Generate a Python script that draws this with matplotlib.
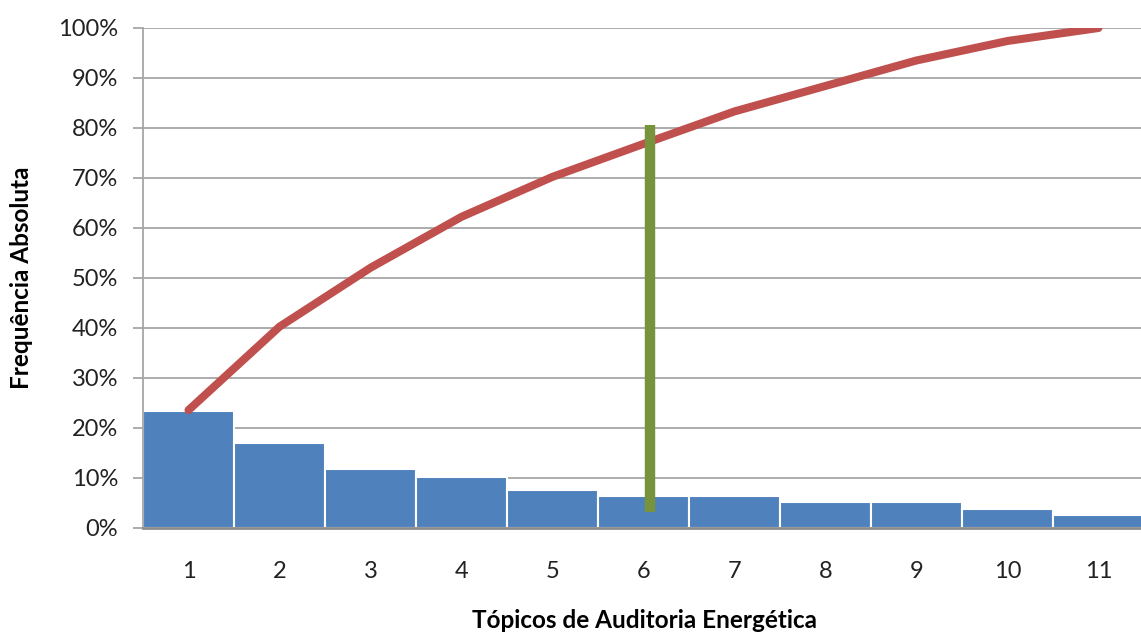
import matplotlib.pyplot as plt
from matplotlib.ticker import PercentFormatter

# Pareto data (percent)
topicos = [1, 2, 3, 4, 5, 6, 7, 8, 9, 10, 11]
frequencia = [23.3, 16.9, 11.7, 10.2, 7.6, 6.4, 6.4, 5.1, 5.1, 3.8, 2.5]
acumulada = [23.5, 40.2, 52.0, 62.2, 70.2, 76.8, 83.3, 88.4, 93.5, 97.4, 100.0]

# vertical marker line (80% cut)
corte_x = 6.07
corte_y = [3.2, 80.6]

plt.rcParams['font.family'] = ['Lato', 'DejaVu Sans']

fig = plt.figure(figsize=(11.41, 6.35), dpi=100)
ax = fig.add_axes([143 / 1141, 107.5 / 635, 1001 / 1141, 499.5 / 635])

ax.bar(topicos, frequencia, width=1.0, color='#4F81BD', edgecolor='white',
       linewidth=1.5, zorder=2)
ax.plot(topicos, acumulada, color='#C0504D', linewidth=5.8,
        solid_capstyle='round', zorder=3)
ax.plot([corte_x, corte_x], corte_y, color='#77933C', linewidth=7.5,
        solid_capstyle='butt', zorder=4)

ax.set_xlim(0.5, 11.5)
ax.set_ylim(0, 100)
ax.set_yticks(range(0, 101, 10))
ax.yaxis.set_major_formatter(PercentFormatter(decimals=0))
ax.set_xticks(topicos)

ax.grid(axis='y', color='#A6A6A6', linewidth=1.3, zorder=0)
ax.set_axisbelow(True)
for s in ['top', 'right']:
    ax.spines[s].set_visible(False)
ax.spines['left'].set_color('#A6A6A6')
ax.spines['left'].set_linewidth(1.3)
ax.spines['bottom'].set_color('#8C8C8C')
ax.spines['bottom'].set_linewidth(2)

ax.tick_params(axis='y', length=7, width=1.3, color='#A6A6A6', pad=11,
               labelsize=17, labelcolor='#222222')
ax.tick_params(axis='x', length=0, pad=24, labelsize=17, labelcolor='#222222')

ax.set_xlabel('Tópicos de Auditoria Energética', fontsize=17.5, fontweight='bold')
ax.set_ylabel('Frequência Absoluta', fontsize=17.5, fontweight='bold')
ax.xaxis.set_label_coords(502 / 1001, -82 / 499.5)
ax.yaxis.set_label_coords(-110 / 1001, 0.5)

fig.savefig('out.png', dpi=100)
